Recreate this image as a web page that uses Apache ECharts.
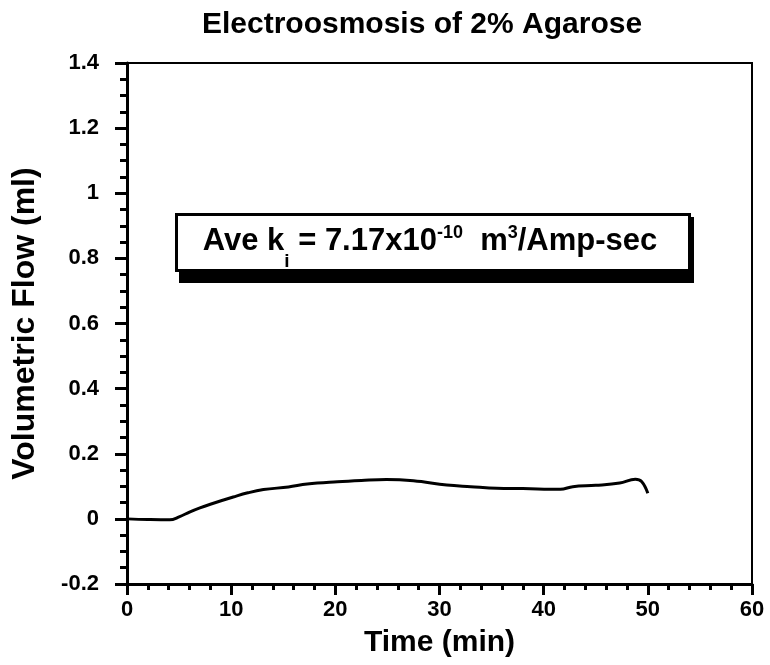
<!DOCTYPE html>
<html>
<head>
<meta charset="utf-8">
<script src="https://cdn.jsdelivr.net/npm/echarts@6/dist/echarts.min.js"></script>
<style>
html,body{margin:0;padding:0;background:#fff;}
#chart{width:770px;height:665px;}
</style>
</head>
<body>
<div id="chart"></div>
<script>
var titleText = 'Electroosmosis of 2% Agarose';
var xName = 'Time (min)';
var yName = 'Volumetric Flow (ml)';
var timeMin = [0, 2, 4.1, 5, 6, 7, 8, 10.2, 11.6, 13.1, 15.5, 17.3, 20.2, 22.5, 24.9, 27.5, 30.7, 33, 35.5, 38, 41.6, 42.8, 45, 47.3, 48.8, 49.4, 50.0];
var flowMl = [0, -0.002, -0.003, 0.006, 0.021, 0.034, 0.045, 0.067, 0.08, 0.09, 0.098, 0.107, 0.114, 0.118, 0.121, 0.117, 0.104, 0.099, 0.094, 0.093, 0.091, 0.099, 0.103, 0.110, 0.122, 0.115, 0.079];

var FONT = '"Liberation Sans", Arial, Helvetica, sans-serif';
var data = timeMin.map(function (t, i) { return [t, flowMl[i]]; });

var chart = echarts.init(document.getElementById('chart'), null, {renderer: 'canvas'});
chart.setOption({
  backgroundColor: '#fff',
  animation: false,
  grid: {left: 127, right: 18, top: 63, bottom: 81, show: true, borderColor: '#000', borderWidth: 2, backgroundColor: 'transparent'},
  xAxis: {
    type: 'value', min: 0, max: 60, interval: 10,
    name: xName, nameLocation: 'middle', nameGap: 44,
    nameTextStyle: {fontFamily: FONT, fontWeight: 'bold', fontSize: 30, color: '#000'},
    axisLine: {show: true, onZero: false, lineStyle: {color: '#000', width: 3}},
    axisTick: {show: true, inside: false, length: 11, lineStyle: {color: '#000', width: 3}},
    minorTick: {show: true, splitNumber: 5, length: 6, lineStyle: {color: '#000', width: 3}},
    axisLabel: {fontFamily: FONT, fontWeight: 'bold', fontSize: 22, color: '#000', margin: 15},
    splitLine: {show: false}
  },
  yAxis: {
    type: 'value', min: -0.2, max: 1.4, interval: 0.2,
    name: yName, nameLocation: 'middle', nameGap: 86, nameRotate: 90,
    nameTextStyle: {fontFamily: FONT, fontWeight: 'bold', fontSize: 32, color: '#000'},
    axisLine: {show: true, onZero: false, lineStyle: {color: '#000', width: 3}},
    axisTick: {show: true, inside: false, length: 12, lineStyle: {color: '#000', width: 3}},
    minorTick: {show: true, splitNumber: 4, length: 7, lineStyle: {color: '#000', width: 3}},
    axisLabel: {fontFamily: FONT, fontWeight: 'bold', fontSize: 22, color: '#000', margin: 28,
      formatter: function (v) { return String(parseFloat(v.toFixed(2))); }},
    splitLine: {show: false}
  },
  series: [{
    type: 'line', data: data, smooth: 0.4, showSymbol: false, symbol: 'none',
    lineStyle: {color: '#000', width: 3}
  }],
  graphic: [
    {type: 'text', style: {text: titleText, x: 422, y: 25, align: 'center', verticalAlign: 'middle', font: 'bold 30px ' + FONT, fill: '#000'}},
    {type: 'rect', shape: {x: 179, y: 217, width: 515, height: 66}, style: {fill: '#000'}},
    {type: 'rect', shape: {x: 176.5, y: 214.5, width: 513, height: 56}, style: {fill: '#fff', stroke: '#000', lineWidth: 3}},
    {type: 'text', style: {
      x: 430, y: 241, align: 'center', verticalAlign: 'middle',
      text: '{m|Ave k}{sub|i}{m| = 7.17x10}{sup|-10}{m|  m}{sup|3}{m|/Amp-sec}',
      rich: {
        m: {fontFamily: FONT, fontWeight: 'bold', fontSize: 31, lineHeight: 60, verticalAlign: 'middle', fill: '#000'},
        sup: {fontFamily: FONT, fontWeight: 'bold', fontSize: 18, lineHeight: 18, padding: [0, 0, 16, 0], verticalAlign: 'middle', fill: '#000'},
        sub: {fontFamily: FONT, fontWeight: 'bold', fontSize: 19, lineHeight: 19, padding: [42, 0, 0, 0], verticalAlign: 'middle', fill: '#000'}
      }
    }}
  ]
});
</script>
</body>
</html>
